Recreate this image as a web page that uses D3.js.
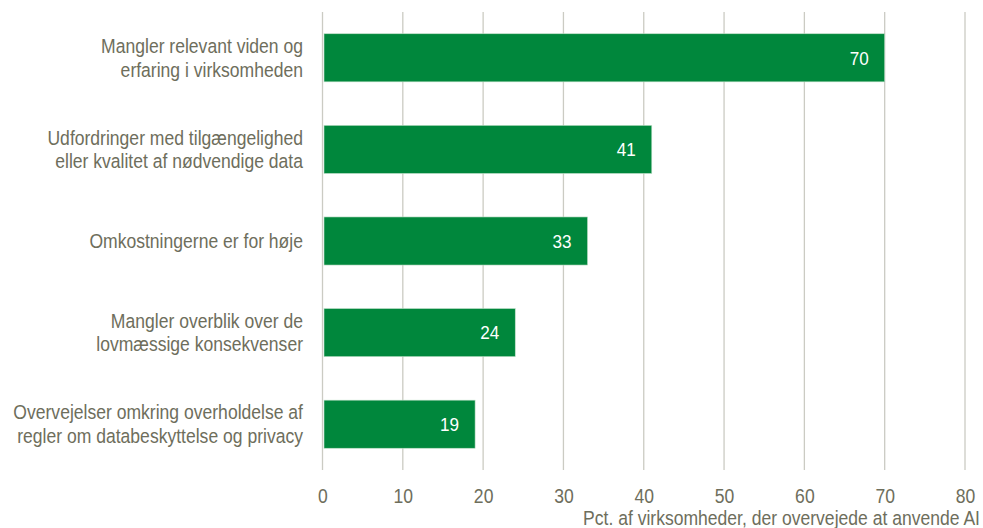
<!DOCTYPE html>
<html>
<head>
<meta charset="utf-8">
<script src="https://cdn.jsdelivr.net/npm/d3@7"></script>
<style>
  body { margin: 0; background: #fff; }
  svg text { font-family: "Liberation Sans", Arial, sans-serif; }
</style>
</head>
<body>
<svg id="chart" width="983" height="528"></svg>
<script>
// data
var categories = [
  ["Mangler relevant viden og", "erfaring i virksomheden"],
  ["Udfordringer med tilgængelighed", "eller kvalitet af nødvendige data"],
  ["Omkostningerne er for høje"],
  ["Mangler overblik over de", "lovmæssige konsekvenser"],
  ["Overvejelser omkring overholdelse af", "regler om databeskyttelse og privacy"]
];
var values = [70, 41, 33, 24, 19];
var ticks = [0, 10, 20, 30, 40, 50, 60, 70, 80];
var axisTitle = "Pct. af virksomheder, der overvejede at anvende AI";

var svg = d3.select("#chart");
var margin = {top: 12, right: 18, bottom: 58, left: 322.5};
var width = 983, height = 528;

var textColor = "#6e6e5c";
var gridColor = "#cbcbc3";
var barColor = "#00873c";
var narrow = " scale(0.9,1)";   // mimic a condensed face

var x = d3.scaleLinear()
  .domain([0, 80])
  .range([margin.left, 965]);

var y = d3.scaleBand()
  .domain(d3.range(categories.length))
  .range([margin.top, height - margin.bottom])
  .paddingInner(0.475)
  .paddingOuter(0.2375);

// gridlines
svg.append("g")
  .selectAll("line")
  .data(ticks)
  .enter().append("line")
  .attr("x1", function(d) { return x(d); })
  .attr("x2", function(d) { return x(d); })
  .attr("y1", margin.top)
  .attr("y2", height - margin.bottom)
  .attr("stroke", gridColor)
  .attr("stroke-width", 1.3);

// bars
svg.append("g")
  .selectAll("rect")
  .data(values)
  .enter().append("rect")
  .attr("x", x(0) + 1.5)
  .attr("y", function(d, i) { return y(i); })
  .attr("width", function(d) { return x(d) - x(0) - 1.5; })
  .attr("height", y.bandwidth())
  .attr("fill", barColor)
  .attr("stroke", "#bfe0c9")
  .attr("stroke-width", 0.6);

// value labels
svg.append("g")
  .selectAll("text")
  .data(values)
  .enter().append("text")
  .attr("transform", function(d, i) {
    return "translate(" + (x(d) - 16) + "," + (y(i) + y.bandwidth() / 2) + ")" + narrow;
  })
  .attr("dy", "0.36em")
  .attr("text-anchor", "end")
  .attr("fill", "#fff")
  .style("font-size", "19px")
  .text(function(d) { return d; });

// category labels
var cat = svg.append("g")
  .selectAll("text")
  .data(categories)
  .enter().append("text")
  .attr("text-anchor", "end")
  .attr("fill", textColor)
  .style("font-size", "19.5px")
  .attr("transform", function(d, i) {
    return "translate(303," + (y(i) + y.bandwidth() / 2) + ")" + narrow;
  });

cat.selectAll("tspan")
  .data(function(d) { return d.map(function(t, j) { return {t: t, j: j, n: d.length}; }); })
  .enter().append("tspan")
  .attr("x", 0)
  .attr("y", function(d) { return (d.j - (d.n - 1) / 2) * 23.5; })
  .attr("dy", "0.36em")
  .text(function(d) { return d.t; });

// x axis
var xAxis = d3.axisBottom(x)
  .tickValues(ticks)
  .tickSize(0)
  .tickPadding(19);

var gx = svg.append("g")
  .attr("transform", "translate(0," + (height - margin.bottom) + ")")
  .call(xAxis);
gx.select(".domain").remove();
gx.selectAll("text")
  .attr("fill", textColor)
  .attr("transform", narrow.trim())
  .style("font-size", "19.5px")
  .style("font-family", null);

// axis title
svg.append("text")
  .attr("transform", "translate(980,525)" + narrow)
  .attr("text-anchor", "end")
  .attr("fill", textColor)
  .style("font-size", "19.5px")
  .text(axisTitle);
</script>
</body>
</html>
